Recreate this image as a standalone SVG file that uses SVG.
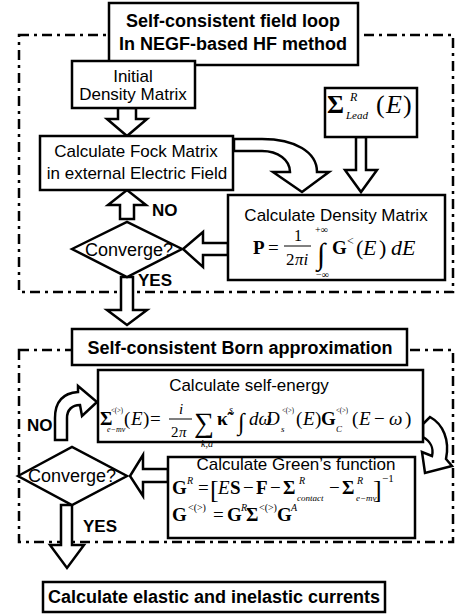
<svg xmlns="http://www.w3.org/2000/svg" width="456" height="616" viewBox="0 0 456 616">
<style>
.box{fill:#fff;stroke:#000;stroke-width:2.5}
.frame{fill:none;stroke:#000;stroke-width:2.5;stroke-dasharray:10 5 3 5}
.arr{fill:#fff;stroke:#000;stroke-width:2.5;stroke-linejoin:miter}
.t{font-family:"Liberation Sans",Arial,sans-serif;font-size:17px;fill:#000;text-anchor:middle}
.tb{font-family:"Liberation Sans",Arial,sans-serif;font-size:18px;font-weight:bold;fill:#000;text-anchor:middle}
.yn{font-family:"Liberation Sans",Arial,sans-serif;font-size:17px;font-weight:bold;fill:#000}
.m{font-family:"Liberation Serif","Times New Roman",serif;font-size:19px;fill:#000}
.b{font-weight:bold}
.i{font-style:italic}
</style>
<rect width="456" height="616" fill="#fff"/>
<g id="frames">
<rect class="frame" x="19" y="35" width="434" height="257"/>
<rect class="frame" x="19" y="350" width="434" height="192"/>
</g>
<g id="connectors">
<polygon class="arr" points="118,108 136,108 136,119 147,119 127,136 107,119 118,119"/>
<path class="arr" d="M234,139 L262,139 C295,139 317,152 317,172 L329,172 L302,192 L273,172 L290,172 C290,160 278,151 262,151 L234,151 Z"/>
<polygon class="arr" points="356,137 366,137 366,170 377,170 361,192 345,170 356,170"/>
<polygon class="arr" points="120,219 120,205 108,205 127,190 146,205 134,205 134,219"/>
<polygon class="arr" points="228,243 203,243 203,232 183,249 203,267 203,255 228,255"/>
<polygon class="arr" points="121,277 133,277 133,310 147,310 127,325 107,310 121,310"/>
<path class="arr" d="M55,440 L55,418 C55,401 64,393 78,392 L78,386 L97,402 L82,416 L80,405 C72,405 67,410 67,418 L67,440 Z"/>
<path class="arr" d="M423,424 L430,417 C443,424 450,440 446,459 L452,466 L425,473 L422,452 L432,456 C434,448 430,441 423,437 Z"/>
<polygon class="arr" points="168,469 143,469 143,455 130,476 143,496 143,482 168,482"/>
<polygon class="arr" points="61,505 72,505 72,545 84,545 67,568 50,545 61,545"/>
</g>
<g id="title1">
<rect class="box" x="109" y="3" width="249" height="62"/>
<text class="tb" x="233" y="27">Self-consistent field loop</text>
<text class="tb" x="233" y="50">In NEGF-based HF method</text>
</g>
<g id="initial">
<rect class="box" x="72" y="61" width="123" height="47"/>
<text class="t" x="133" y="82">Initial</text>
<text class="t" x="133" y="100">Density Matrix</text>
</g>
<g id="fock">
<rect class="box" x="40" y="136" width="193" height="54"/>
<text class="t" x="136" y="157">Calculate Fock Matrix</text>
<text class="t" x="137" y="179">in external Electric Field</text>
</g>
<g id="sigmalead">
<rect class="box" x="325" y="88" width="92" height="49"/>
<text class="m b" style="font-size:26px" x="327" y="113">Σ</text>
<text class="m i" style="font-size:12px" x="350" y="101">R</text>
<text class="m i" style="font-size:11px" x="346" y="119">Lead</text>
<text class="m" style="font-size:26px" y="113"><tspan x="376">(</tspan><tspan class="i" x="386">E</tspan><tspan x="403">)</tspan></text>
</g>
<g id="density">
<rect class="box" x="228" y="195" width="217" height="85"/>
<text class="t" x="336" y="221">Calculate Density Matrix</text>
<text class="m" style="font-size:19px" y="254"><tspan class="b" x="253">P</tspan><tspan x="268">=</tspan></text>
<text class="m" style="font-size:16px" x="294" y="241">1</text>
<line x1="284" y1="246" x2="311" y2="246" stroke="#000" stroke-width="1"/>
<text class="m" style="font-size:17px" y="265"><tspan x="286">2</tspan><tspan class="i" x="295">πi</tspan></text>
<text class="m" style="font-size:30px" x="317" y="264">∫</text>
<text class="m" style="font-size:10px" x="315" y="233">+∞</text>
<text class="m" style="font-size:10px" x="316" y="278">−∞</text>
<text class="m b" style="font-size:19px" x="332" y="254">G</text>
<text class="m" style="font-size:12px" x="347" y="245">&lt;</text>
<text class="m" style="font-size:22px" y="255"><tspan x="356">(</tspan><tspan class="i" x="363">E</tspan><tspan x="379">)</tspan><tspan class="i" x="391">dE</tspan></text>
</g>
<g id="converge1">
<polygon class="box" points="72,249 127,222 182,249 127,277"/>
<text class="t" style="font-size:18px" x="129" y="256">Converge?</text>
</g>
<text class="yn" x="152" y="216">NO</text>
<text class="yn" x="138" y="286">YES</text>
<g id="title2">
<rect class="box" x="72" y="329" width="335" height="36"/>
<text class="tb" x="240" y="354">Self-consistent Born approximation</text>
</g>
<g id="selfenergy">
<rect class="box" x="98" y="370" width="325" height="72"/>
<text class="t" x="249" y="391">Calculate self-energy</text>
<text class="m b" x="100" y="425">Σ</text>
<text class="m" style="font-size:9px" x="111" y="413" textLength="12" lengthAdjust="spacingAndGlyphs">&lt;(&gt;)</text>
<text class="m i" style="font-size:8px" x="107" y="432">e−mv</text>
<text class="m" y="425"><tspan x="124">(</tspan><tspan class="i" x="131">E</tspan><tspan x="143">)</tspan><tspan x="150">=</tspan></text>
<text class="m i" style="font-size:15px" x="179" y="414">i</text>
<line x1="169" y1="419" x2="192" y2="419" stroke="#000" stroke-width="1"/>
<text class="m" style="font-size:15px" y="437"><tspan x="171">2</tspan><tspan class="i" x="179">π</tspan></text>
<text class="m" style="font-size:28px" x="194" y="432">∑</text>
<text class="m i" style="font-size:10px" x="201" y="447">k,a</text>
<text class="m b" x="217" y="425">κ̃</text>
<text class="m i" style="font-size:10px" x="229" y="413">s</text>
<text class="m" style="font-size:24px" x="238" y="430">∫</text>
<text class="m i" y="425"><tspan x="249">dω</tspan><tspan x="266">D</tspan></text>
<text class="m i" style="font-size:9px" x="281" y="432">s</text>
<text class="m" style="font-size:9px" x="282" y="413" textLength="12" lengthAdjust="spacingAndGlyphs">&lt;(&gt;)</text>
<text class="m" y="425"><tspan x="296">(</tspan><tspan class="i" x="303">E</tspan><tspan x="315">)</tspan><tspan class="b" x="321">G</tspan></text>
<text class="m" style="font-size:9px" x="336" y="413" textLength="12" lengthAdjust="spacingAndGlyphs">&lt;(&gt;)</text>
<text class="m i" style="font-size:9px" x="336" y="432">C</text>
<text class="m" y="425"><tspan x="352">(</tspan><tspan class="i" x="359">E</tspan><tspan x="374">−</tspan><tspan class="i" x="389">ω</tspan><tspan x="405">)</tspan></text>
</g>
<g id="green">
<rect class="box" x="168" y="457" width="247" height="81"/>
<text class="t" x="296" y="470">Calculate Green’s function</text>
<text class="m" y="494"><tspan class="b" x="172">G</tspan><tspan x="198">=</tspan><tspan class="i" x="218">E</tspan><tspan class="b" x="230">S</tspan><tspan x="243">−</tspan><tspan class="b" x="256">F</tspan><tspan x="270">−</tspan><tspan class="b" x="283">Σ</tspan><tspan x="329">−</tspan><tspan class="b" x="342">Σ</tspan></text>
<text class="m" style="font-size:26px" y="498"><tspan x="210">[</tspan><tspan x="373">]</tspan></text>
<text class="m i" style="font-size:10px" y="484"><tspan x="187">R</tspan><tspan x="299">R</tspan><tspan x="357">R</tspan></text>
<text class="m i" style="font-size:9px" y="501"><tspan x="297">contact</tspan><tspan x="356">e−mv</tspan></text>
<text class="m" style="font-size:11px" x="382" y="482">−1</text>
<text class="m" y="521"><tspan class="b" x="172">G</tspan><tspan x="213">=</tspan><tspan class="b" x="227">G</tspan><tspan class="b" x="246">Σ</tspan><tspan class="b" x="277">G</tspan></text>
<text class="m" style="font-size:10px" y="511"><tspan x="188">&lt;(&gt;)</tspan><tspan class="i" x="241">R</tspan><tspan x="259">&lt;(&gt;)</tspan><tspan class="i" x="291">A</tspan></text>
</g>
<g id="converge2">
<polygon class="box" points="18,476 72,447 127,476 72,505"/>
<text class="t" style="font-size:18px" x="72" y="482">Converge?</text>
</g>
<text class="yn" x="27" y="431">NO</text>
<text class="yn" x="83" y="532">YES</text>
<g id="final">
<rect class="box" x="43" y="582" width="342" height="30"/>
<text class="tb" x="214" y="603">Calculate elastic and inelastic currents</text>
</g>
</svg>
